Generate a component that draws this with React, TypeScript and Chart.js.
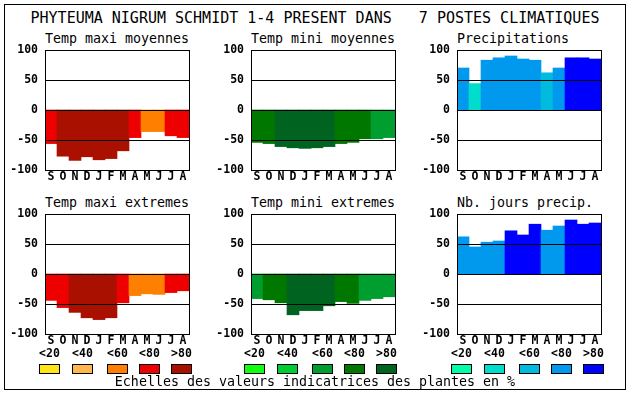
import React, { useEffect, useRef } from 'react';
import { Chart, registerables } from 'chart.js';

Chart.register(...registerables);

const months = ['S', 'O', 'N', 'D', 'J', 'F', 'M', 'A', 'M', 'J', 'J', 'A'];
const gridValues = [50, 0, -50];
const classLabels = ['<20', '<40', '<60', '<80', '>80'];

const redPalette = ['#FFE41A', '#FFB84D', '#FF8000', '#EE0000', '#AA1000'];
const greenPalette = ['#10FF10', '#00CC33', '#009E2E', '#007800', '#006420'];
const bluePalette = ['#00FFAA', '#00DDCC', '#00BBDD', '#0099EE', '#0000FF'];

const tmaxMoyValues = [-56, -77, -84, -78, -83, -81, -68, -46, -36, -36, -43, -46];
const tmaxMoyClasses = [3, 4, 4, 4, 4, 4, 4, 3, 2, 2, 3, 3];
const tminMoyValues = [-54, -56, -61, -63, -64, -63, -61, -56, -54, -48, -48, -46];
const tminMoyClasses = [3, 3, 4, 4, 4, 4, 4, 3, 3, 3, 2, 2];
const precipValues = [70, 44, 83, 87, 90, 85, 83, 62, 70, 87, 87, 85];
const precipClasses = [3, 1, 3, 3, 3, 3, 3, 2, 3, 4, 4, 4];
const tmaxExtValues = [-44, -56, -64, -73, -76, -73, -48, -36, -33, -34, -31, -28];
const tmaxExtClasses = [3, 3, 4, 4, 4, 4, 3, 2, 2, 2, 3, 3];
const tminExtValues = [-41, -43, -48, -68, -61, -61, -53, -46, -49, -44, -41, -38];
const tminExtClasses = [2, 3, 3, 4, 4, 4, 4, 3, 3, 2, 2, 2];
const nbJoursValues = [62, 45, 53, 55, 72, 65, 83, 73, 80, 90, 83, 85];
const nbJoursClasses = [3, 3, 3, 3, 4, 4, 4, 3, 3, 4, 4, 4];

const TITLE = 'PHYTEUMA NIGRUM SCHMIDT 1-4 PRESENT DANS   7 POSTES CLIMATIQUES';
const FOOTER = 'Echelles des valeurs indicatrices des plantes en %';

const FONT = '"DejaVu Sans Mono", monospace';

const framePlugin = {
  id: 'frame',
  afterDatasetsDraw(chart: any) {
    const { ctx, chartArea: a, scales } = chart;
    ctx.save();
    ctx.strokeStyle = '#000';
    ctx.lineWidth = 1;
    ctx.beginPath();
    for (const v of gridValues) {
      const y = Math.round(scales.y.getPixelForValue(v)) + 0.5;
      ctx.moveTo(a.left, y);
      ctx.lineTo(a.right + 1, y);
    }
    ctx.stroke();
    ctx.strokeRect(a.left + 0.5, a.top + 0.5, a.right - a.left, a.bottom - a.top);
    ctx.restore();
  },
};

const PLOT_W = 144;
const PLOT_H = 120;
const AXIS_W = 45;
const PAD_TOP = 8;
const PAD_RIGHT = 6;
const XAXIS_H = 20;

function Panel(props: { title: string; values: number[]; classes: number[]; palette: string[]; L: number; T: number }) {
  const ref = useRef<HTMLCanvasElement>(null);
  const { title, values, classes, palette, L, T } = props;
  const cw = PLOT_W + AXIS_W + PAD_RIGHT;
  const ch = PLOT_H + PAD_TOP + XAXIS_H;
  useEffect(() => {
    const tickFont = { family: FONT, size: 11.5, weight: 'bold' as const };
    const chart = new Chart(ref.current!, {
      type: 'bar',
      data: {
        labels: months,
        datasets: [
          {
            data: values,
            backgroundColor: classes.map((c) => palette[c]),
            borderWidth: 0,
            barPercentage: 1,
            categoryPercentage: 1,
          },
        ],
      },
      options: {
        responsive: false,
        maintainAspectRatio: false,
        animation: false,
        devicePixelRatio: 1,
        layout: { padding: { top: PAD_TOP, right: PAD_RIGHT, left: 0, bottom: 0 } },
        plugins: { legend: { display: false }, tooltip: { enabled: false }, title: { display: false } },
        scales: {
          x: {
            grid: { display: false, drawTicks: false },
            border: { display: false },
            ticks: { font: tickFont, color: '#000', padding: 0, maxRotation: 0, autoSkip: false },
            afterFit: (s: any) => {
              s.height = XAXIS_H;
              s.paddingLeft = 0;
              s.paddingRight = 0;
            },
          },
          y: {
            min: -100,
            max: 100,
            grid: { display: false, drawTicks: false },
            border: { display: false },
            ticks: { stepSize: 50, font: tickFont, color: '#000', padding: 7 },
            afterFit: (s: any) => {
              s.width = AXIS_W;
              s.paddingTop = 0;
              s.paddingBottom = 0;
            },
          },
        },
      },
      plugins: [framePlugin],
    });
    return () => chart.destroy();
  }, []);
  return (
    <>
      <div
        style={{
          position: 'absolute',
          left: L,
          top: T - 18.5,
          fontFamily: FONT,
          fontSize: '13.3px',
          lineHeight: '13.3px',
          whiteSpace: 'pre',
          color: '#000',
        }}
      >
        {title}
      </div>
      <canvas
        ref={ref}
        width={cw}
        height={ch}
        style={{ position: 'absolute', left: L - AXIS_W, top: T - PAD_TOP, width: cw, height: ch }}
      />
    </>
  );
}

const legendGroups = [
  { palette: redPalette, x: 39 },
  { palette: greenPalette, x: 244 },
  { palette: bluePalette, x: 451 },
];
const legendOffsets = [0, 33, 68, 100, 132];

export default function App() {
  useEffect(() => {
    document.body.style.margin = '0';
  }, []);
  return (
    <div
      style={{
        position: 'fixed',
        left: 0,
        top: 0,
        width: 630,
        height: 394,
        background: '#fff',
        overflow: 'hidden',
      }}
    >
      <div
        style={{
          position: 'absolute',
          left: 4,
          top: 4,
          width: 622,
          height: 386,
          border: '1px solid #000',
          boxSizing: 'border-box',
        }}
      />
      <div
        style={{
          position: 'absolute',
          left: 0,
          width: 630,
          top: 11,
          textAlign: 'center',
          fontFamily: FONT,
          fontSize: '15px',
          lineHeight: '15px',
          whiteSpace: 'pre',
          color: '#000',
        }}
      >
        {TITLE}
      </div>
      <Panel title="Temp maxi moyennes" values={tmaxMoyValues} classes={tmaxMoyClasses} palette={redPalette} L={45} T={50} />
      <Panel title="Temp mini moyennes" values={tminMoyValues} classes={tminMoyClasses} palette={greenPalette} L={251} T={50} />
      <Panel title="Precipitations" values={precipValues} classes={precipClasses} palette={bluePalette} L={457} T={50} />
      <Panel title="Temp maxi extremes" values={tmaxExtValues} classes={tmaxExtClasses} palette={redPalette} L={45} T={214} />
      <Panel title="Temp mini extremes" values={tminExtValues} classes={tminExtClasses} palette={greenPalette} L={251} T={214} />
      <Panel title="Nb. jours precip." values={nbJoursValues} classes={nbJoursClasses} palette={bluePalette} L={457} T={214} />
      {legendGroups.map((g, gi) =>
        classLabels.map((lab, i) => (
          <React.Fragment key={gi + '-' + i}>
            <div
              style={{
                position: 'absolute',
                left: g.x + legendOffsets[i] - 10,
                width: 41,
                top: 347.5,
                textAlign: 'center',
                fontFamily: FONT,
                fontWeight: 'bold',
                fontSize: '11.5px',
                lineHeight: '11.5px',
                whiteSpace: 'pre',
                color: '#000',
              }}
            >
              {lab}
            </div>
            <div
              style={{
                position: 'absolute',
                left: g.x + legendOffsets[i],
                top: 364,
                width: 21,
                height: 10,
                boxSizing: 'border-box',
                border: '1px solid #000',
                background: g.palette[i],
              }}
            />
          </React.Fragment>
        ))
      )}
      <div
        style={{
          position: 'absolute',
          left: 0,
          width: 630,
          top: 375.3,
          textAlign: 'center',
          fontFamily: FONT,
          fontSize: '13.3px',
          lineHeight: '13.3px',
          whiteSpace: 'pre',
          color: '#000',
        }}
      >
        {FOOTER}
      </div>
    </div>
  );
}
